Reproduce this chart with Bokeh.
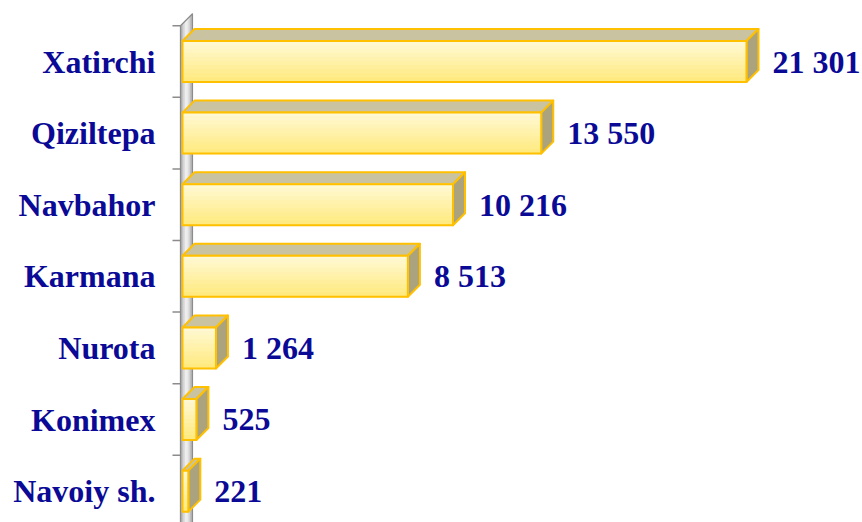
from bokeh.plotting import figure
from bokeh.models import ColumnDataSource, Range1d
from bokeh.core.properties import value
from bokeh.embed import file_html
from bokeh.resources import INLINE

# ---- data ----
categories = ["Xatirchi", "Qiziltepa", "Navbahor", "Karmana", "Nurota", "Konimex", "Navoiy sh."]
values = [21301, 13550, 10216, 8513, 1264, 525, 221]
value_labels = ["21 301", "13 550", "10 216", "8 513", "1 264", "525", "221"]

W, H = 862, 522
X0 = -6873.0
X1 = X0 + 32556.0
Y0, Y1 = -0.438, 6.852
pxx = W / (X1 - X0)          # px per x unit
pxy = H / (Y1 - Y0)          # px per y unit
DX = 12 / pxx                # 3D depth offset (x)
DY = 12 / pxy                # 3D depth offset (y)
BH = 41 / pxy                # bar height

n = len(categories)
ypos = [n - 1 - i for i in range(n)]

p = figure(width=W, height=H, output_backend="svg", toolbar_location=None,
           x_range=Range1d(X0, X1), y_range=Range1d(Y0, Y1), min_border=0)
p.axis.visible = False
p.grid.visible = False
p.outline_line_color = None
p.background_fill_color = "white"
p.border_fill_color = "white"

# ---- side wall (3D axis) ----
xw = -2 / pxx
yb, yt = -0.6, 6.5
wall_cols = ["#A8A8A8", "#C4C4C4", "#DDDDDD", "#EFEFEF", "#E8E8E8", "#D2D2D2", "#B8B8B8"]
nw = len(wall_cols)
wxs, wys = [], []
for k in range(nw):
    f0, f1 = k / nw, (k + 1) / nw
    wxs.append([xw + f0 * DX, xw + f1 * DX, xw + f1 * DX, xw + f0 * DX])
    wys.append([yb + f0 * DY, yb + f1 * DY, yt + f1 * DY, yt + f0 * DY])
p.patches(wxs, wys, fill_color=wall_cols, line_color=wall_cols, line_width=1)
p.patch([xw, xw + DX, xw + DX, xw], [yb, yb + DY, yt + DY, yt],
        fill_color=None, line_color="#8C8C8C", line_width=1.2)

# ticks
tick_y = [y + 0.5 for y in range(-1, n)]
p.segment(x0=[xw - 8 / pxx] * len(tick_y), x1=[xw] * len(tick_y), y0=tick_y, y1=tick_y,
          line_color="#8C8C8C", line_width=1.5)

# ---- bars ----
border = "#FFC000"
top_xs, top_ys, side_xs, side_ys = [], [], [], []
for v, y in zip(values, ypos):
    b, t = y - BH / 2, y + BH / 2
    top_xs.append([0, v, v + DX, DX])
    top_ys.append([t, t, t + DY, t + DY])
    side_xs.append([v, v + DX, v + DX, v])
    side_ys.append([b, b + DY, t + DY, t])
p.patches(top_xs, top_ys, fill_color="#C9C3A2", line_color=border, line_width=2, line_join="round")
p.patches(side_xs, side_ys, fill_color="#AAA37E", line_color=border, line_width=2, line_join="round")

# front face gradient strips
grad_top = (0xFF, 0xFA, 0xD8)
grad_bot = (0xFF, 0xE9, 0x7C)
ns = 10
L, R, B, T, C = [], [], [], [], []
for v, y in zip(values, ypos):
    b, t = y - BH / 2, y + BH / 2
    for k in range(ns):
        f = (k + 0.5) / ns
        col = "#%02X%02X%02X" % tuple(int(round(a + (c - a) * f)) for a, c in zip(grad_top, grad_bot))
        L.append(0); R.append(v)
        T.append(t - (t - b) * k / ns); B.append(t - (t - b) * (k + 1) / ns)
        C.append(col)
p.quad(left=L, right=R, bottom=B, top=T, fill_color=C, line_color=C, line_width=1)
p.quad(left=[0] * n, right=values, bottom=[y - BH / 2 for y in ypos], top=[y + BH / 2 for y in ypos],
       fill_color=None, line_color=border, line_width=2, line_join="round")

# ---- labels ----
navy = "#0A0A96"
src = ColumnDataSource(dict(cat=categories, val=values, lab=value_labels, y=ypos, zero=[0] * n))
p.text(x="zero", y="y", text="cat", source=src, x_offset=-27, text_align="right",
       text_baseline="middle", text_font=value("Liberation Serif"), text_font_style="bold",
       text_font_size="32px", text_color=navy)
p.text(x="val", y="y", text="lab", source=src, x_offset=26, text_align="left",
       text_baseline="middle", text_font=value("Liberation Serif"), text_font_style="bold",
       text_font_size="32px", text_color=navy)

open("out.html", "w").write(file_html(p, INLINE))
